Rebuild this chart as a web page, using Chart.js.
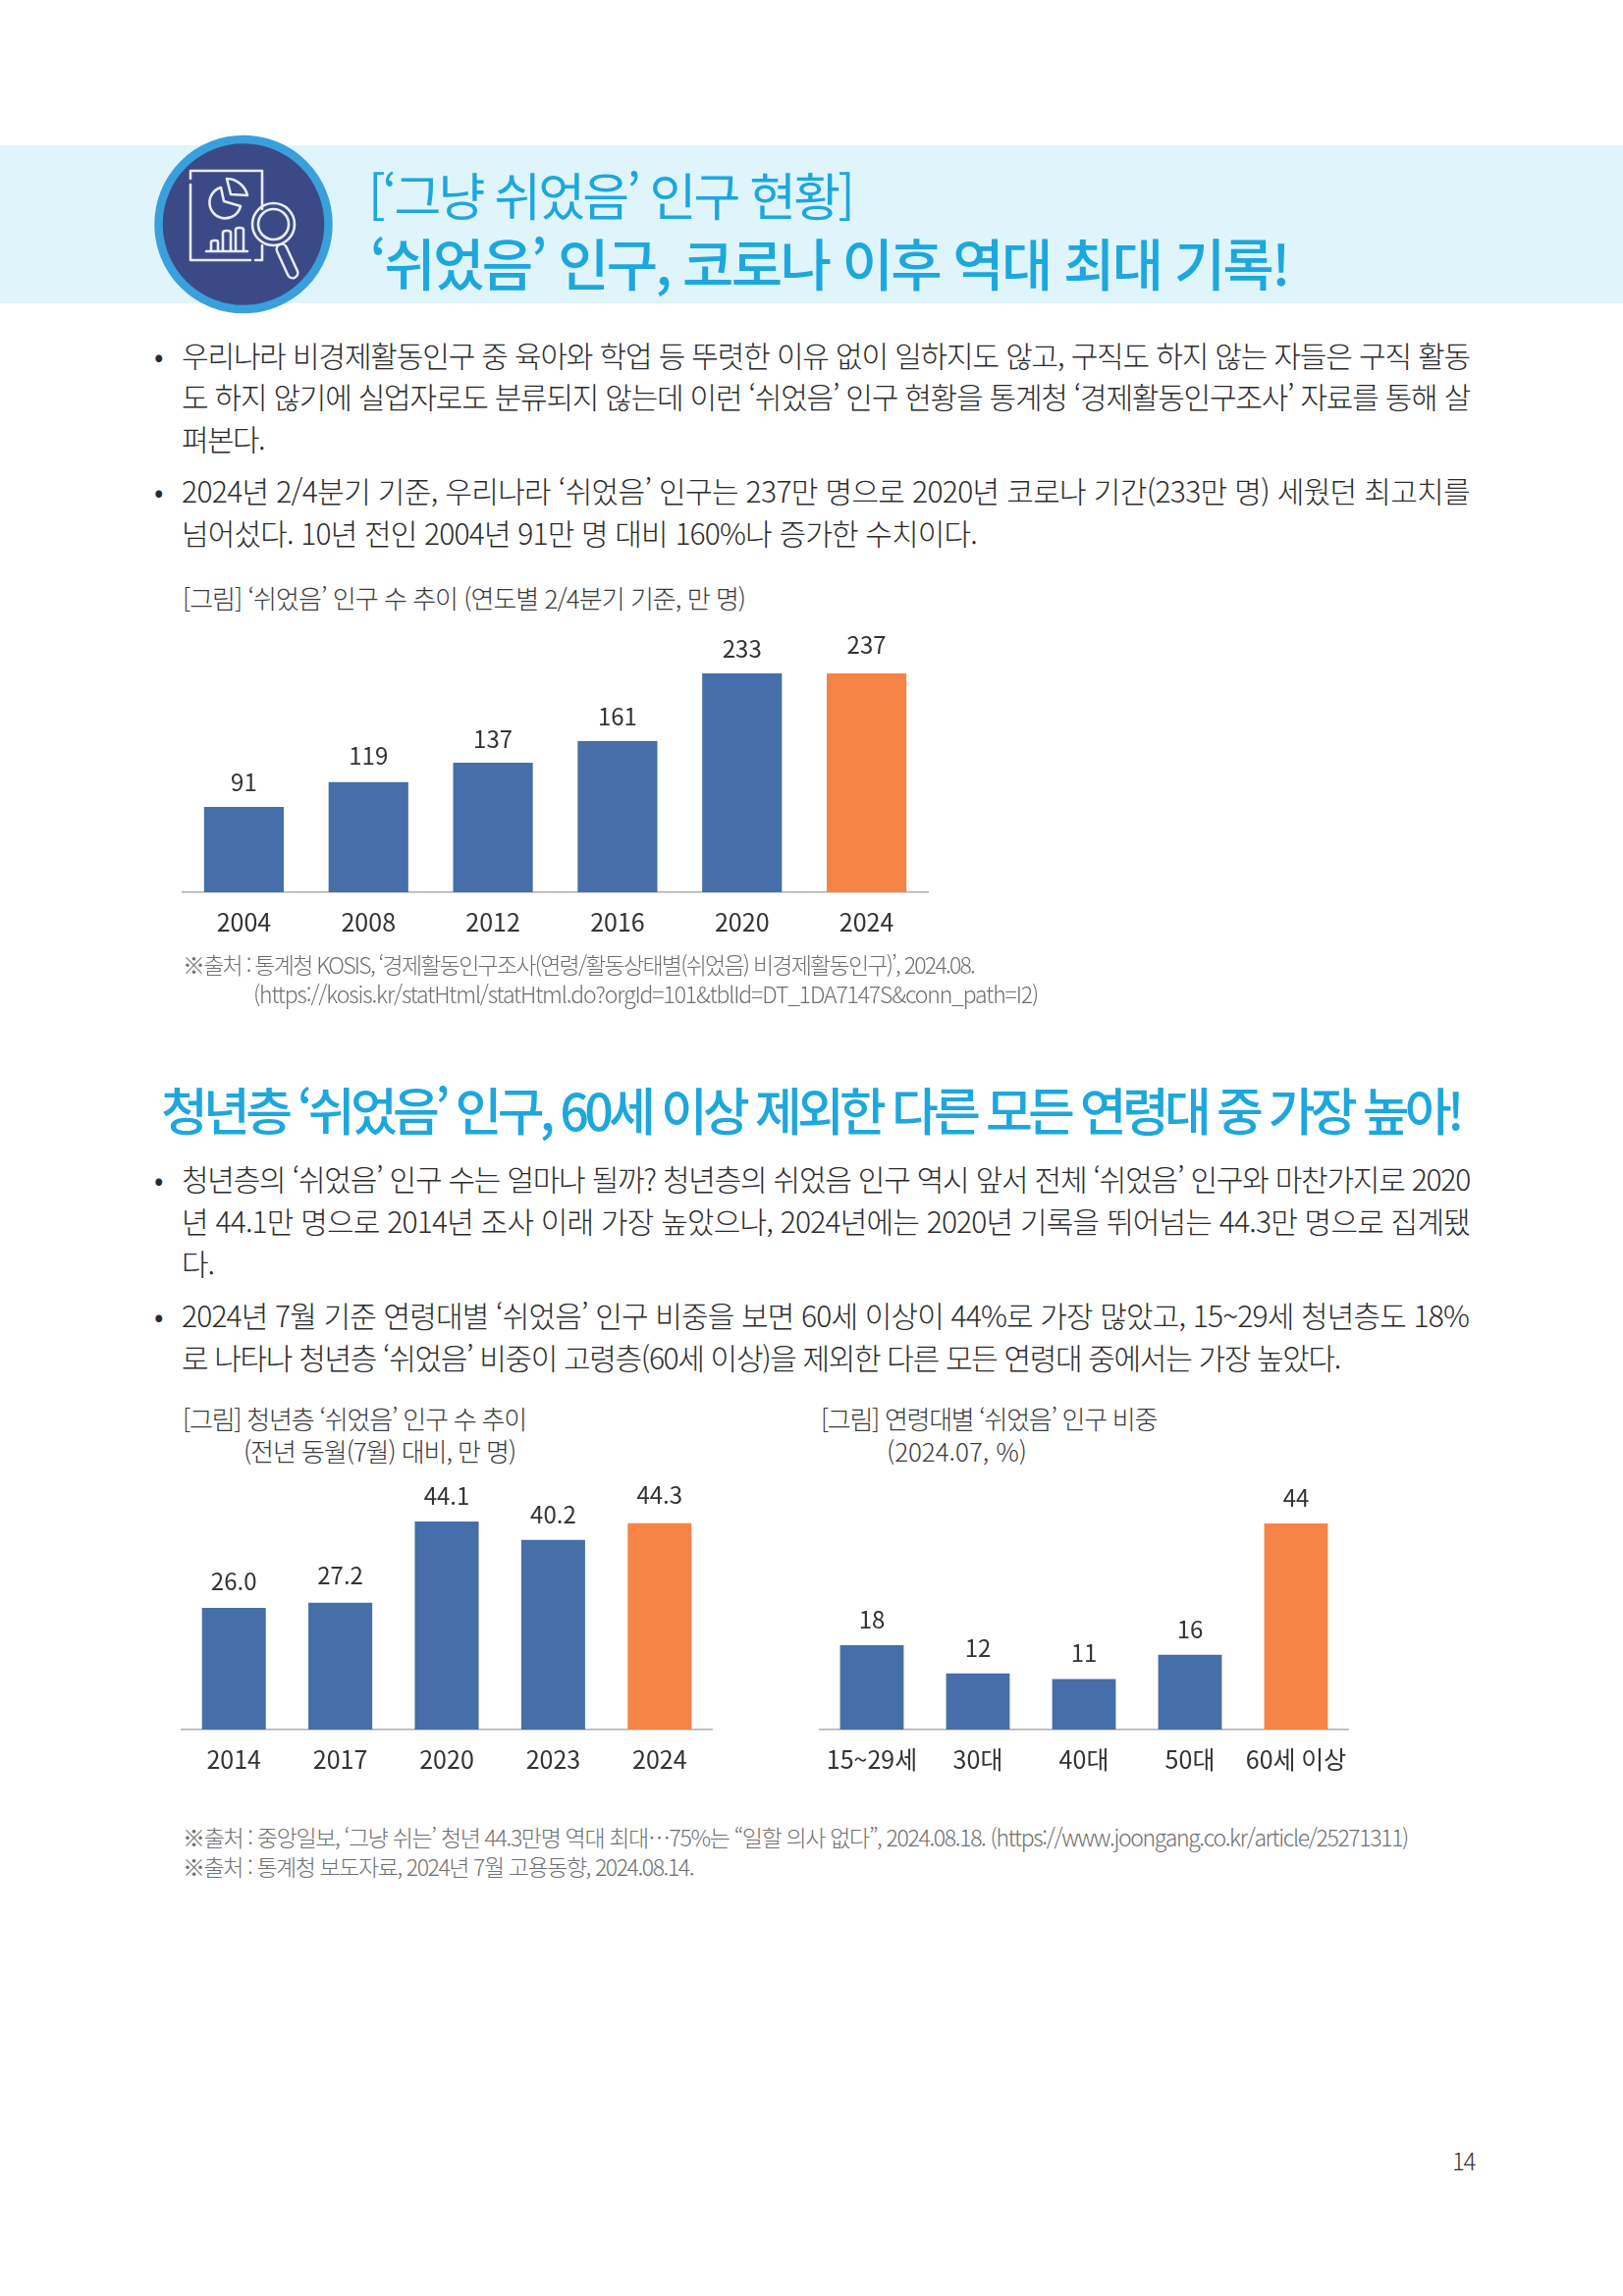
<!DOCTYPE html>
<html lang="ko">
<head>
<meta charset="utf-8">
<title>그냥 쉬었음 인구 현황</title>
<script src="https://cdn.jsdelivr.net/npm/chart.js@4"></script>
<style>
  html, body { margin: 0; padding: 0; background: #fff; }
  #page { position: relative; width: 1653px; height: 2339px; overflow: hidden; font-family: "Noto Sans CJK KR", "Noto Sans", sans-serif; }
  #band { position: absolute; left: 0; top: 148px; width: 1653px; height: 161px; background: #dff4fb; }
  #icon { position: absolute; left: 0; top: 0; }
  canvas { position: absolute; }
  .t { position: absolute; white-space: pre; line-height: 1.1; transform: translateY(-50%); }
  .title { color: #1da7dc; font-size: 52px; font-weight: 400; }
  .lead { color: #1da7dc; font-size: 57px; font-weight: 500; }
  .head { color: #1da7dc; font-size: 52px; font-weight: 500; }
  .body { color: #2b2b2b; font-size: 30px; font-weight: 300; }
  .cap { color: #3a3a3a; font-size: 26px; font-weight: 300; }
  .src { color: #6f6f6f; font-size: 23px; font-weight: 300; }
  .num { color: #333; font-size: 24px; font-weight: 300; }
</style>
</head>
<body>
<div id="page">
  <div id="band"></div>
  <svg id="icon" width="400" height="340" fill="none" stroke="#e9ebf3" stroke-width="2.6" stroke-linecap="round" stroke-linejoin="round">
    <circle cx="248" cy="228.5" r="86.5" fill="#3b4a87" stroke="#3aa0dc" stroke-width="8.5"/>
    <path d="M194 188V265H255M260 265H267V250M267 213V174H194V182"/>
    <path d="M225 191A16 16 0 1 0 245 210L228 205Z"/>
    <path d="M231 182A22 22 0 0 1 252 199L235 198Z"/>
    <path d="M215 255V247Q215 245 218 245H220Q222 245 222 247V255M227 255V237Q227 235 231 235Q235 235 235 237V255M240 255V234Q240 232 244 232Q248 232 248 234V255M210 256H252"/>
    <circle cx="278.5" cy="228.5" r="21.5"/>
    <circle cx="278.5" cy="228.5" r="15.5"/>
    <path d="M287 254L298 278" stroke-width="13"/>
    <path d="M287 254L298 278" stroke="#3b4a87" stroke-width="8"/>
  </svg>

  <div class="t title" data-x1="375" data-x2="868" style="top:198px">[‘그냥 쉬었음’ 인구 현황]</div>
  <div class="t lead" data-x1="377" data-x2="1312" style="top:266px">‘쉬었음’ 인구, 코로나 이후 역대 최대 기록!</div>

  <div class="t body" style="left:157px;top:361px">•</div>
  <div class="t body" data-x1="185" data-x2="1497" style="top:361px">우리나라 비경제활동인구 중 육아와 학업 등 뚜렷한 이유 없이 일하지도 않고, 구직도 하지 않는 자들은 구직 활동</div>
  <div class="t body" data-x1="185" data-x2="1497" style="top:403px">도 하지 않기에 실업자로도 분류되지 않는데 이런 ‘쉬었음’ 인구 현황을 통계청 ‘경제활동인구조사’ 자료를 통해 살</div>
  <div class="t body" data-x1="185" data-x2="269" style="top:446px">펴본다.</div>
  <div class="t body" style="left:157px;top:499px">•</div>
  <div class="t body" data-x1="185" data-x2="1497" style="top:499px">2024년 2/4분기 기준, 우리나라 ‘쉬었음’ 인구는 237만 명으로 2020년 코로나 기간(233만 명) 세웠던 최고치를</div>
  <div class="t body" data-x1="185" data-x2="995" style="top:542px">넘어섰다. 10년 전인 2004년 91만 명 대비 160%나 증가한 수치이다.</div>

  <div class="t cap" data-x1="186" data-x2="759" style="top:609px">[그림] ‘쉬었음’ 인구 수 추이 (연도별 2/4분기 기준, 만 명)</div>
  <canvas id="idle-chart"></canvas>
  <div class="t src" data-x1="186" data-x2="992" style="top:983px">※출처 : 통계청 KOSIS, ‘경제활동인구조사(연령/활동상태별(쉬었음) 비경제활동인구)’, 2024.08.</div>
  <div class="t src" data-x1="258" data-x2="1057" style="top:1013px">(https://kosis.kr/statHtml/statHtml.do?orgId=101&amp;tblId=DT_1DA7147S&amp;conn_path=I2)</div>

  <div class="t head" data-x1="164" data-x2="1487" style="top:1130px">청년층 ‘쉬었음’ 인구, 60세 이상 제외한 다른 모든 연령대 중 가장 높아!</div>

  <div class="t body" style="left:157px;top:1200px">•</div>
  <div class="t body" data-x1="185" data-x2="1497" style="top:1200px">청년층의 ‘쉬었음’ 인구 수는 얼마나 될까? 청년층의 쉬었음 인구 역시 앞서 전체 ‘쉬었음’ 인구와 마찬가지로 2020</div>
  <div class="t body" data-x1="185" data-x2="1497" style="top:1243px">년 44.1만 명으로 2014년 조사 이래 가장 높았으나, 2024년에는 2020년 기록을 뛰어넘는 44.3만 명으로 집계됐</div>
  <div class="t body" data-x1="185" data-x2="218" style="top:1286px">다.</div>
  <div class="t body" style="left:157px;top:1339px">•</div>
  <div class="t body" data-x1="185" data-x2="1496" style="top:1339px">2024년 7월 기준 연령대별 ‘쉬었음’ 인구 비중을 보면 60세 이상이 44%로 가장 많았고, 15~29세 청년층도 18%</div>
  <div class="t body" data-x1="185" data-x2="1365" style="top:1382px">로 나타나 청년층 ‘쉬었음’ 비중이 고령층(60세 이상)을 제외한 다른 모든 연령대 중에서는 가장 높았다.</div>

  <div class="t cap" data-x1="186" data-x2="536" style="top:1445px">[그림] 청년층 ‘쉬었음’ 인구 수 추이</div>
  <div class="t cap" data-x1="248" data-x2="525" style="top:1478px">(전년 동월(7월) 대비, 만 명)</div>
  <div class="t cap" data-x1="836" data-x2="1178" style="top:1445px">[그림] 연령대별 ‘쉬었음’ 인구 비중</div>
  <div class="t cap" data-x1="903" data-x2="1046" style="top:1478px">(2024.07, %)</div>
  <canvas id="youth-chart"></canvas>
  <canvas id="age-chart"></canvas>

  <div class="t src" data-x1="186" data-x2="1434" style="top:1872px">※출처 : 중앙일보, ‘그냥 쉬는’ 청년 44.3만명 역대 최대…75%는 “일할 의사 없다”, 2024.08.18. (https://www.joongang.co.kr/article/25271311)</div>
  <div class="t src" data-x1="186" data-x2="706" style="top:1902px">※출처 : 통계청 보도자료, 2024년 7월 고용동향, 2024.08.14.</div>

  <div class="t num" data-x1="1479" data-x2="1502" style="top:2201px">14</div>
</div>

<script>
const idleYears  = ['2004', '2008', '2012', '2016', '2020', '2024'];
const idleBars   = [91, 117.2, 138, 161, 233, 233];
const idleLabels = ['91', '119', '137', '161', '233', '237'];

const youthYears  = ['2014', '2017', '2020', '2023', '2024'];
const youthBars   = [25.8, 26.9, 44.1, 40.2, 43.75];
const youthLabels = ['26.0', '27.2', '44.1', '40.2', '44.3'];

const ageGroups = ['15~29세', '30대', '40대', '50대', '60세 이상'];
const ageBars   = [18, 12, 10.8, 16, 44];
const ageLabels = ['18', '12', '11', '16', '44'];

const BLUE = '#466ea8';
const ORANGE = '#f58446';
const FONT = '"Noto Sans CJK KR", "Noto Sans", sans-serif';

// stretch each text line to the width it has on the page
document.querySelectorAll('.t[data-x1]').forEach((el) => {
  const x1 = +el.dataset.x1;
  const x2 = +el.dataset.x2;
  el.style.left = `${x1}px`;
  const w = el.getBoundingClientRect().width;
  el.style.letterSpacing = `${(x2 - x1 - w) / el.textContent.length}px`;
});

const valueLabels = {
  id: 'valueLabels',
  afterDatasetsDraw(chart, args, opts) {
    const { ctx, scales } = chart;
    const bars = chart.getDatasetMeta(0).data;
    ctx.save();
    ctx.font = `24px ${FONT}`;
    ctx.fillStyle = '#333';
    ctx.textAlign = 'center';
    ctx.textBaseline = 'middle';
    opts.labels.forEach((txt, i) => {
      ctx.fillText(txt, bars[i].x, scales.y.getPixelForValue(+txt) - opts.gap);
    });
    ctx.restore();
  },
};

function drawBars(id, cfg) {
  const canvas = document.getElementById(id);
  canvas.width = cfg.width;
  canvas.height = cfg.height;
  canvas.style.left = `${cfg.left}px`;
  canvas.style.top = `${cfg.top}px`;
  const last = cfg.labels.length - 1;
  return new Chart(canvas, {
    type: 'bar',
    data: {
      labels: cfg.categories,
      datasets: [{
        data: cfg.bars,
        backgroundColor: cfg.bars.map((v, i) => (i === last ? ORANGE : BLUE)),
        categoryPercentage: 1,
        barPercentage: cfg.barWidth,
      }],
    },
    plugins: [valueLabels],
    options: {
      responsive: false,
      animation: false,
      devicePixelRatio: 1,
      layout: { autoPadding: false, padding: { top: 45, left: 0, right: 0, bottom: 0 } },
      plugins: {
        legend: { display: false },
        tooltip: { enabled: false },
        valueLabels: { labels: cfg.labels, gap: cfg.gap },
      },
      scales: {
        x: {
          // keep the plot full width: long tick labels must not pull the bars inward
          afterFit: (s) => { s.height = 60; s.paddingLeft = 0; s.paddingRight = 0; },
          grid: { display: false, drawTicks: false },
          border: { color: '#adadad', width: 1.5 },
          ticks: { color: '#333', padding: 15, maxRotation: 0, font: { family: FONT, size: 25 } },
        },
        y: { display: false, min: 0, max: cfg.max },
      },
    },
  });
}

drawBars('idle-chart', {
  left: 185, top: 641, width: 761, height: 328,
  categories: idleYears, bars: idleBars, labels: idleLabels,
  max: 233, gap: 25, barWidth: 0.64,
});
drawBars('youth-chart', {
  left: 184, top: 1505, width: 542, height: 317,
  categories: youthYears, bars: youthBars, labels: youthLabels,
  max: 44.1, gap: 26, barWidth: 0.6,
});
drawBars('age-chart', {
  left: 834, top: 1507, width: 540, height: 315,
  categories: ageGroups, bars: ageBars, labels: ageLabels,
  max: 44, gap: 26, barWidth: 0.6,
});
</script>
</body>
</html>
